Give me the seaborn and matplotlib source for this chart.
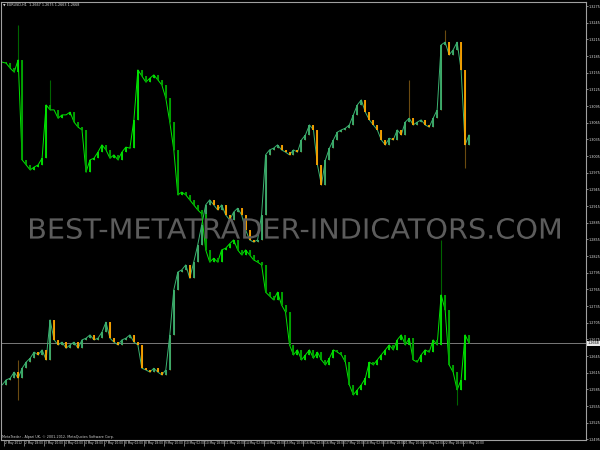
import numpy as np
import pandas as pd
import matplotlib
matplotlib.use("Agg")
import matplotlib.pyplot as plt
import seaborn as sns
from matplotlib import font_manager
from matplotlib.textpath import TextPath
from matplotlib.patches import PathPatch
from matplotlib.font_manager import FontProperties
from matplotlib.transforms import Affine2D, ScaledTranslation

# closes, one per ~3 H1 bars
eurusd_close = [1.3174, 1.3172, 1.3163, 1.3156, 1.3178, 1.2998, 1.2989, 1.2980, 1.2985, 1.2989,
                1.3001, 1.3097, 1.3088, 1.3088, 1.3073, 1.3079, 1.3079, 1.3084, 1.3066, 1.3057,
                1.3052, 1.2976, 1.2998, 1.3001, 1.3012, 1.3025, 1.3016, 1.3001, 1.3007, 1.2998,
                1.3012, 1.3021, 1.3019, 1.3070, 1.3160, 1.3149, 1.3138, 1.3145, 1.3151, 1.3142,
                1.3133, 1.3109, 1.3066, 1.3016, 1.2935, 1.2940, 1.2935, 1.2926, 1.2917, 1.2908,
                1.2901, 1.2836, 1.2814, 1.2821, 1.2814, 1.2836, 1.2839, 1.2847, 1.2854, 1.2836,
                1.2827, 1.2836, 1.2827, 1.2818, 1.2814, 1.2809, 1.2760, 1.2753, 1.2746, 1.2760,
                1.2737, 1.2724, 1.2665, 1.2647, 1.2656, 1.2638, 1.2647, 1.2656, 1.2641, 1.2652,
                1.2638, 1.2629, 1.2641, 1.2656, 1.2652, 1.2647, 1.2634, 1.2593, 1.2575, 1.2584,
                1.2593, 1.2605, 1.2634, 1.2629, 1.2638, 1.2647, 1.2656, 1.2665, 1.2656, 1.2674,
                1.2683, 1.2665, 1.2677, 1.2638, 1.2634, 1.2647, 1.2656, 1.2652, 1.2674, 1.2665,
                1.2755, 1.2728, 1.2629, 1.2616, 1.2584, 1.2602, 1.2683, 1.2668]

overlay_close = [1.2593, 1.2602, 1.2605, 1.2616, 1.2605, 1.2623, 1.2634, 1.2641, 1.2652, 1.2647,
                 1.2656, 1.2638, 1.2710, 1.2674, 1.2665, 1.2670, 1.2659, 1.2665, 1.2670, 1.2659,
                 1.2674, 1.2677, 1.2683, 1.2674, 1.2677, 1.2688, 1.2706, 1.2677, 1.2670, 1.2665,
                 1.2674, 1.2677, 1.2683, 1.2670, 1.2665, 1.2623, 1.2620, 1.2616, 1.2623, 1.2616,
                 1.2611, 1.2620, 1.2683, 1.2764, 1.2796, 1.2800, 1.2809, 1.2785, 1.2814, 1.2845,
                 1.2881, 1.2917, 1.2926, 1.2917, 1.2908, 1.2917, 1.2899, 1.2890, 1.2904, 1.2911,
                 1.2899, 1.2872, 1.2854, 1.2850, 1.2854, 1.2899, 1.3007, 1.3016, 1.3019, 1.3025,
                 1.3016, 1.3012, 1.3007, 1.3016, 1.3012, 1.3034, 1.3043, 1.3061, 1.3052, 1.2989,
                 1.2953, 1.2998, 1.3019, 1.3034, 1.3048, 1.3052, 1.3055, 1.3061, 1.3079, 1.3097,
                 1.3106, 1.3084, 1.3070, 1.3061, 1.3052, 1.3034, 1.3025, 1.3037, 1.3034, 1.3052,
                 1.3043, 1.3066, 1.3073, 1.3061, 1.3066, 1.3070, 1.3061, 1.3057, 1.3073, 1.3088,
                 1.3205, 1.3210, 1.3187, 1.3196, 1.3210, 1.3160, 1.3025, 1.3043]

# long wicks that stand out
eurusd_high = {4: 1.3241, 12: 1.3142, 110: 1.2854}
eurusd_low = {114: 1.2557}
overlay_high = {4: 1.2638, 102: 1.3142, 111: 1.3232}
overlay_low = {4: 1.2566, 116: 1.2983}

price_ticks = [round(1.3275 - 0.003 * k, 4) for k in range(27)]
time_labels = ["2 May 2012", "2 May 18:00", "3 May 10:00", "4 May 02:00", "4 May 18:00",
               "7 May 10:00", "8 May 02:00", "8 May 18:00", "9 May 10:00", "10 May 02:00",
               "10 May 18:00", "11 May 10:00", "14 May 02:00", "14 May 18:00", "15 May 10:00",
               "16 May 02:00", "16 May 18:00", "17 May 10:00", "18 May 02:00", "18 May 18:00",
               "21 May 10:00", "22 May 02:00", "22 May 18:00", "23 May 10:00"]
header = "\u25bc EURUSD,H1  1.2667 1.2675 1.2663 1.2668"
footer = "MetaTrader - Alpari UK, \u00a9 2001-2012, MetaQuotes Software Corp."
watermark = "BEST-METATRADER-INDICATORS.COM"

sns.set_style("dark", {"axes.facecolor": "black", "figure.facecolor": "black"})
plt.rcParams["font.family"] = ["DejaVu Sans"]

# the terminal uses a tiny condensed font; take a narrow face if one is there
names = {f.name for f in font_manager.fontManager.ttflist}
small_font = "Liberation Sans Narrow" if "Liberation Sans Narrow" in names else "DejaVu Sans"
small_size = 3.0 if small_font != "DejaVu Sans" else 2.4
date_size = small_size * 0.85

fig = plt.figure(figsize=(6, 4.5), dpi=100)
ax = fig.add_axes([1 / 600, 10 / 450, 585 / 600, 438 / 450])
ax.set_facecolor("black")


def draw_candles(ax, closes, highs, lows, up_col, dn_col, wick_col):
    closes = np.array(closes)
    idx = np.arange(len(closes))
    opens = np.r_[closes[0], closes[:-1]]
    top = np.maximum(opens, closes)
    bot = np.minimum(opens, closes)
    hi = top.copy()
    lo = bot.copy()
    for k, v in highs.items():
        hi[k] = v
    for k, v in lows.items():
        lo[k] = v
    ax.vlines(idx, lo, hi, color=wick_col, lw=0.8, zorder=2)
    up = closes >= opens
    ax.vlines(idx[up], bot[up], top[up], color=up_col, lw=1.3, zorder=3)
    ax.vlines(idx[~up], bot[~up], top[~up], color=dn_col, lw=1.3, zorder=3)
    df = pd.DataFrame({"bar": idx, "close": closes})
    sns.lineplot(data=df, x="bar", y="close", ax=ax, color=up_col, lw=0.7, zorder=2)


draw_candles(ax, overlay_close, overlay_high, overlay_low, "#3cb371", "#ffa500", "#6b4a10")
draw_candles(ax, eurusd_close, eurusd_high, eurusd_low, "#00e600", "#00a800", "#006400")

# current price line
last = eurusd_close[-1]
ax.axhline(last, color="#8c8c8c", lw=0.6, zorder=1)

ax.set_xlim(-0.3, 146.3)
ax.set_ylim(1.24938, 1.32822)
ax.set_xlabel("")
ax.set_ylabel("")
ax.grid(False)
for s in ax.spines.values():
    s.set_color("#a0a0a0")
    s.set_linewidth(0.8)

ax.yaxis.tick_right()
ax.set_yticks(price_ticks)
ax.set_yticklabels([f"{p:.4f}" for p in price_ticks], family=small_font)
ax.tick_params(axis="y", direction="out", length=1.5, width=0.6, color="#a0a0a0",
               labelsize=small_size, labelcolor="#e0e0e0", pad=0.6, right=True, left=False)

ax.set_xticks([0.5 + 5 * k for k in range(len(time_labels))])
ax.set_xticklabels(time_labels, family=small_font)
ax.tick_params(axis="x", direction="out", length=4, width=0.5, color="#a0a0a0",
               labelsize=date_size, labelcolor="#e0e0e0", pad=-3.5, bottom=True)
shift = ScaledTranslation(0.9 / 72, 0, fig.dpi_scale_trans)
for lab in ax.get_xticklabels():
    lab.set_horizontalalignment("left")
    lab.set_transform(lab.get_transform() + shift)

ax.text(1.003, last, f"{last:.4f}", transform=ax.get_yaxis_transform(), fontsize=small_size,
        family=small_font, color="black", va="center", ha="left",
        bbox=dict(boxstyle="square,pad=0.2", fc="#e8e8e8", ec="none"), clip_on=False)

fig.text(3 / 600, 1 - 5 / 450, header, fontsize=small_size, family=small_font,
         color="#e0e0e0", va="center", ha="left")
fig.text(2 / 600, 13 / 450, footer, fontsize=small_size, family=small_font,
         color="#d0d0d0", va="center", ha="left")

# watermark stretched to the box it fills on the reference
tp = TextPath((0, 0), watermark, size=100, prop=FontProperties(family="DejaVu Sans"))
ext = tp.get_extents()
trans = (Affine2D().translate(-ext.x0, -ext.y0)
         .scale(530 / ext.width, 21 / ext.height).translate(30, 450 - 239))
patch = PathPatch(tp, transform=trans, fc="#5c5c5c", ec="none", zorder=5)
fig.add_artist(patch)

fig.savefig("out.png", dpi=100, facecolor="black")
